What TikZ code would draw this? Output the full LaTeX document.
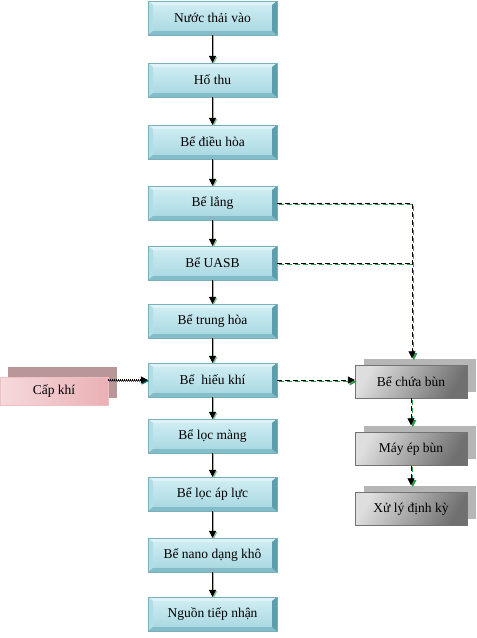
\documentclass[tikz,border=0pt]{standalone}
\usepackage{fontspec}
\setmainfont{Liberation Serif}
\usetikzlibrary{arrows.meta,calc}
\definecolor{faceT}{HTML}{D2EFF4}
\definecolor{faceB}{HTML}{A6D6E0}
\definecolor{bevT}{HTML}{DDF3F7}
\definecolor{bevL}{HTML}{B3DEE7}
\definecolor{bevR}{HTML}{5E9DAC}
\definecolor{bevB}{HTML}{84BDCA}
\definecolor{edgeC}{HTML}{7AAFBC}
\definecolor{grayL}{HTML}{DEDEDE}
\definecolor{grayD}{HTML}{707070}
\definecolor{grayS}{HTML}{B6B6B6}
\definecolor{pinkL}{HTML}{F6DADC}
\definecolor{pinkD}{HTML}{EAB0B5}
\definecolor{pinkS}{HTML}{B99799}
\definecolor{shgreen}{HTML}{2F9A4C}
\begin{document}
\begin{tikzpicture}[x=1pt,y=-1pt,
  mainbox/.style={minimum width=129pt,minimum height=34pt,inner sep=0pt,
    font=\fontsize{13.5}{15}\selectfont,
    top color=faceT,bottom color=faceB,draw=edgeC,line width=0.3pt,
    path picture={
      \fill[bevT] (path picture bounding box.north west) -- (path picture bounding box.north east)
        -- ([shift={(-5pt,-4pt)}]path picture bounding box.north east) -- ([shift={(5pt,-4pt)}]path picture bounding box.north west) -- cycle;
      \fill[bevL] (path picture bounding box.north west) -- (path picture bounding box.south west)
        -- ([shift={(5pt,4pt)}]path picture bounding box.south west) -- ([shift={(5pt,-4pt)}]path picture bounding box.north west) -- cycle;
      \fill[bevB] (path picture bounding box.south west) -- (path picture bounding box.south east)
        -- ([shift={(-5pt,4pt)}]path picture bounding box.south east) -- ([shift={(5pt,4pt)}]path picture bounding box.south west) -- cycle;
      \fill[bevR] (path picture bounding box.north east) -- (path picture bounding box.south east)
        -- ([shift={(-5pt,4pt)}]path picture bounding box.south east) -- ([shift={(-5pt,-4pt)}]path picture bounding box.north east) -- cycle;
    }},
  graybox/.style={minimum width=112pt,minimum height=33pt,inner sep=0pt,
    font=\fontsize{13.5}{15}\selectfont,
    top color=grayL,bottom color=grayD,shading angle=60,draw=black!55,line width=0.3pt},
  grayshadow/.style={minimum width=112pt,minimum height=33pt,inner sep=0pt,fill=grayS},
  pinkbox/.style={minimum width=108pt,minimum height=28pt,inner sep=0pt,
    font=\fontsize{13.5}{15}\selectfont,
    left color=pinkL,right color=pinkD,draw=pinkD!80!white,line width=0.3pt},
  pinkshadow/.style={minimum width=109pt,minimum height=31pt,inner sep=0pt,fill=pinkS},
  tip/.style={-{Triangle[length=7pt,width=7pt]}},
  flow/.style={tip,line width=0.7pt,black},
  flowsh/.style={tip,line width=0.7pt,shgreen!60,transform canvas={shift={(1.2pt,-1.2pt)}}},
  dline/.style={tip,line width=0.8pt,black,dash pattern=on 5pt off 3pt},
  dlinesh/.style={tip,line width=0.8pt,shgreen,dash pattern=on 5pt off 3pt,transform canvas={shift={(1.8pt,-1.8pt)}}},
  dotline/.style={tip,line width=1.2pt,black,dash pattern=on 1pt off 1pt},
  dotlinesh/.style={tip,line width=1.2pt,teal,dash pattern=on 1pt off 1pt,transform canvas={shift={(1pt,-1pt)}}}
]
\useasboundingbox (0,0) rectangle (477,638);
% main column
\node[mainbox] (n1) at (212.5,18) {Nước thải vào};
\node[mainbox] (n2) at (212.5,80) {Hố thu};
\node[mainbox] (n3) at (212.5,142) {Bể điều hòa};
\node[mainbox] (n4) at (212.5,203) {Bể lắng};
\node[mainbox] (n5) at (212.5,263) {Bể UASB};
\node[mainbox] (n6) at (212.5,321) {Bể trung hòa};
\node[mainbox] (n7) at (212.5,380) {Bể\ \ hiếu khí};
\node[mainbox] (n8) at (212.5,436) {Bể lọc màng};
\node[mainbox] (n9) at (212.5,494) {Bể lọc áp lực};
\node[mainbox] (n10) at (212.5,555) {Bể nano dạng khô};
\node[mainbox] (n11) at (212.5,614) {Nguồn tiếp nhận};
% right column
\node[grayshadow] (s1) at (420,375) {};
\node[graybox] (r1) at (411,381.5) {Bể chứa bùn};
\node[grayshadow] (s2) at (420,442) {};
\node[graybox] (r2) at (411,449) {Máy ép bùn};
\node[grayshadow] (s3) at (420,502) {};
\node[graybox] (r3) at (411,509) {Xử lý định kỳ};
% air supply
\node[pinkshadow] (ps) at (62.5,382.5) {};
\node[pinkbox] (cap) at (54,391) {Cấp khí};
% main arrows
\foreach \a/\b in {n1/n2,n2/n3,n3/n4,n4/n5,n5/n6,n6/n7,n7/n8,n8/n9,n9/n10,n10/n11}{
  \draw[flowsh] (\a.south) -- (\b.north);
  \draw[flow] (\a.south) -- (\b.north);
}
% sludge lines
\coordinate (cnr) at (412,203);
\coordinate (j5) at (412,263);
\draw[dlinesh] (n4.east) -- (cnr) -- (cnr |- s1.north);
\draw[dline] (n4.east) -- (cnr) -- (cnr |- s1.north);
\draw[dlinesh,-] (n5.east) -- (j5);
\draw[dline,-] (n5.east) -- (j5);
\draw[dlinesh] (n7.east) -- (n7.east -| r1.west);
\draw[dline] (n7.east) -- (n7.east -| r1.west);
\draw[dlinesh] (r1.south) -- (r1.south |- s2.north);
\draw[dline] (r1.south) -- (r1.south |- s2.north);
\draw[dlinesh] (r2.south) -- (r2.south |- s3.north);
\draw[dline] (r2.south) -- (r2.south |- s3.north);
% air
\draw[dotlinesh] (n7.west -| cap.east) -- (n7.west);
\draw[dotline] (n7.west -| cap.east) -- (n7.west);
\end{tikzpicture}
\end{document}
